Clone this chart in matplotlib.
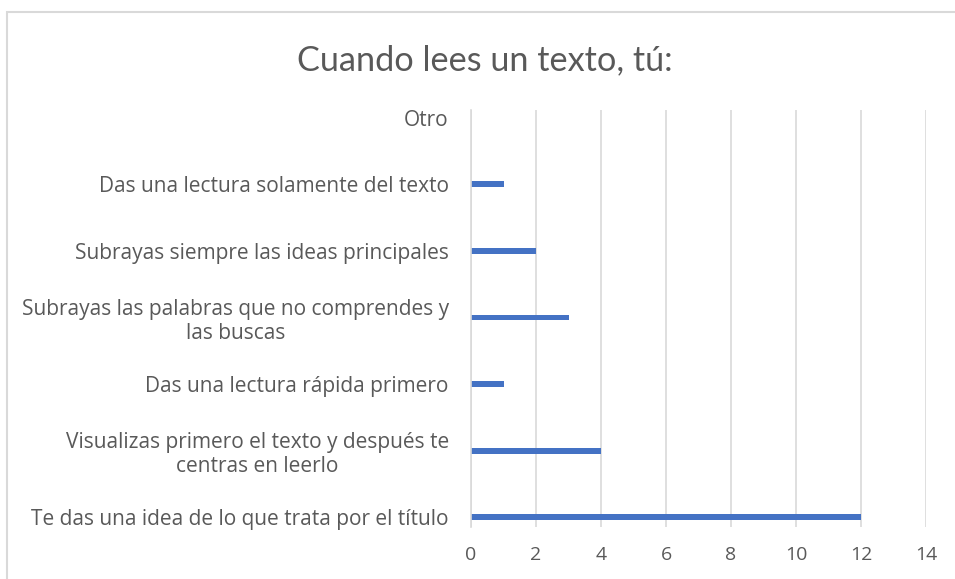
import matplotlib.pyplot as plt
from matplotlib.patches import Rectangle

# datos (de abajo hacia arriba)
categorias = [
    "Te das una idea de lo que trata por el título",
    "Visualizas primero el texto y después te\ncentras en leerlo",
    "Das una lectura rápida primero",
    "Subrayas las palabras que no comprendes y\nlas buscas",
    "Subrayas siempre las ideas principales",
    "Das una lectura solamente del texto",
    "Otro",
]
respuestas = [12, 4, 1, 3, 2, 1, 0]
ticks_x = [0, 2, 4, 6, 8, 10, 12, 14]

gris = "#595959"
azul = "#4472C4"

fig = plt.figure(figsize=(9.55, 5.79), dpi=100)
fig.patches.append(Rectangle((7 / 955, -0.05), 1.0, 1 - 12 / 579 + 0.05,
                             transform=fig.transFigure, fill=False,
                             edgecolor="#d9d9d9", linewidth=1.5))

ax = fig.add_axes([471 / 955, 1 - 527 / 579, (926 - 471) / 955, (527 - 110) / 579])
ax.barh(range(len(categorias)), respuestas, height=0.09, color=azul)

ax.set_xlim(0, 14)
ax.set_ylim(-0.15, 6.12)
ax.set_xticks(ticks_x)
ax.set_yticks(range(len(categorias)))
ax.set_yticklabels(categorias, fontsize=15, color=gris, family="Open Sans",
                   ha="right", multialignment="center", linespacing=1.2)
ax.tick_params(axis="y", length=0, pad=16)
ax.tick_params(axis="x", length=0, labelsize=14, labelcolor=gris, pad=14)
for t in ax.get_xticklabels():
    t.set_family("Open Sans")

ax.grid(axis="x", color="#d9d9d9", linewidth=1.2)
ax.set_axisbelow(True)
for s in ["top", "right", "bottom"]:
    ax.spines[s].set_visible(False)
ax.spines["left"].set_color("#d9d9d9")
ax.spines["left"].set_linewidth(1.2)

fig.text(485 / 955, 1 - 60 / 579, "Cuando lees un texto, tú:", fontsize=24.7,
         color=gris, family="Lato", ha="center", va="center")

fig.savefig("out.png", dpi=100)
